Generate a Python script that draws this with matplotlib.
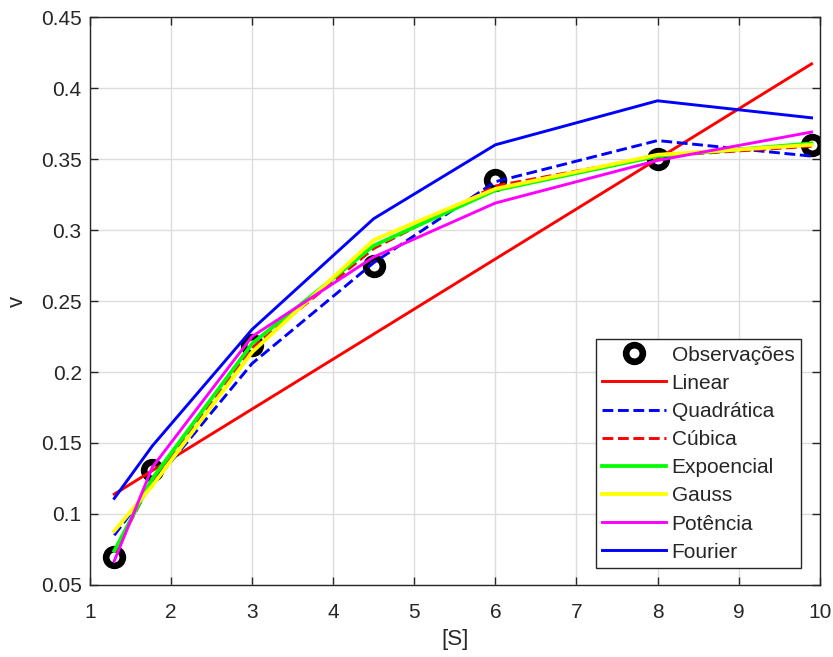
import matplotlib.pyplot as plt

plt.rcParams['font.family'] = ['Liberation Sans', 'DejaVu Sans']

# substrate concentration and observed rate
S = [1.3, 1.77, 3.0, 4.5, 6.0, 8.0, 9.9]
v_obs = [0.070, 0.131, 0.219, 0.275, 0.335, 0.350, 0.360]

# fitted models evaluated at S
v_linear = [0.114, 0.1306, 0.1739, 0.2267, 0.2796, 0.350, 0.417]
v_quad = [0.085, 0.121, 0.206, 0.277, 0.334, 0.363, 0.352]
v_cubic = [0.073, 0.124, 0.217, 0.287, 0.331, 0.352, 0.359]
v_exp = [0.074, 0.125, 0.220, 0.289, 0.328, 0.352, 0.361]
v_gauss = [0.088, 0.120, 0.214, 0.293, 0.329, 0.353, 0.360]
v_power = [0.067, 0.133, 0.225, 0.281, 0.319, 0.349, 0.369]
v_fourier = [0.111, 0.148, 0.230, 0.308, 0.360, 0.391, 0.379]

gray = '#262626'

fig = plt.figure(figsize=(8.33, 6.57), dpi=100)
ax = fig.add_axes([0.108, 0.1096, 0.876, 0.8645])

ax.plot(S, v_obs, 'o', color='k', mfc='white', mec='k', ms=12, mew=4.8,
        label='Observações', zorder=2)
lw = 2.1
ax.plot(S, v_linear, '-', color='#ff0000', lw=lw, label='Linear', zorder=3)
ax.plot(S, v_quad, '--', color='#0000ff', lw=lw, label='Quadrática', zorder=3)
ax.plot(S, v_cubic, '--', color='#ff0000', lw=lw, label='Cúbica', zorder=3)
ax.plot(S, v_exp, '-', color='#00ff00', lw=lw + 0.6, label='Expoencial', zorder=3)
ax.plot(S, v_gauss, '-', color='#ffff00', lw=lw + 0.6, label='Gauss', zorder=3)
ax.plot(S, v_power, '-', color='#ff00ff', lw=lw, label='Potência', zorder=3)
ax.plot(S, v_fourier, '-', color='#0000ff', lw=lw, label='Fourier', zorder=3)

ax.set_xlim(1, 10)
ax.set_ylim(0.05, 0.45)
ax.set_xticks(range(1, 11))
ax.set_yticks([0.05, 0.1, 0.15, 0.2, 0.25, 0.3, 0.35, 0.4, 0.45])
ax.set_yticklabels(['0.05', '0.1', '0.15', '0.2', '0.25', '0.3', '0.35', '0.4', '0.45'])
ax.grid(True, color='#dcdcdc', lw=1)
ax.set_axisbelow(True)
ax.tick_params(direction='in', top=True, right=True, length=6, width=1,
               labelsize=15, labelcolor=gray, color=gray)
ax.tick_params(axis='x', pad=13)
ax.tick_params(axis='y', pad=6)
for sp in ax.spines.values():
    sp.set_color(gray)
    sp.set_linewidth(1)

ax.set_xlabel('[S]', fontsize=16, color=gray, labelpad=5)
ax.set_ylabel('v', fontsize=16, color=gray, labelpad=9)

leg = ax.legend(loc='lower right', bbox_to_anchor=(0.974, 0.030), fontsize=15,
                handlelength=3.1, labelspacing=0.44, handletextpad=0.25,
                borderpad=0.3, borderaxespad=0, fancybox=False, framealpha=1)
leg.get_frame().set_edgecolor(gray)
leg.get_frame().set_linewidth(1)
for t in leg.get_texts():
    t.set_color(gray)

fig.savefig('out.png', dpi=100)
